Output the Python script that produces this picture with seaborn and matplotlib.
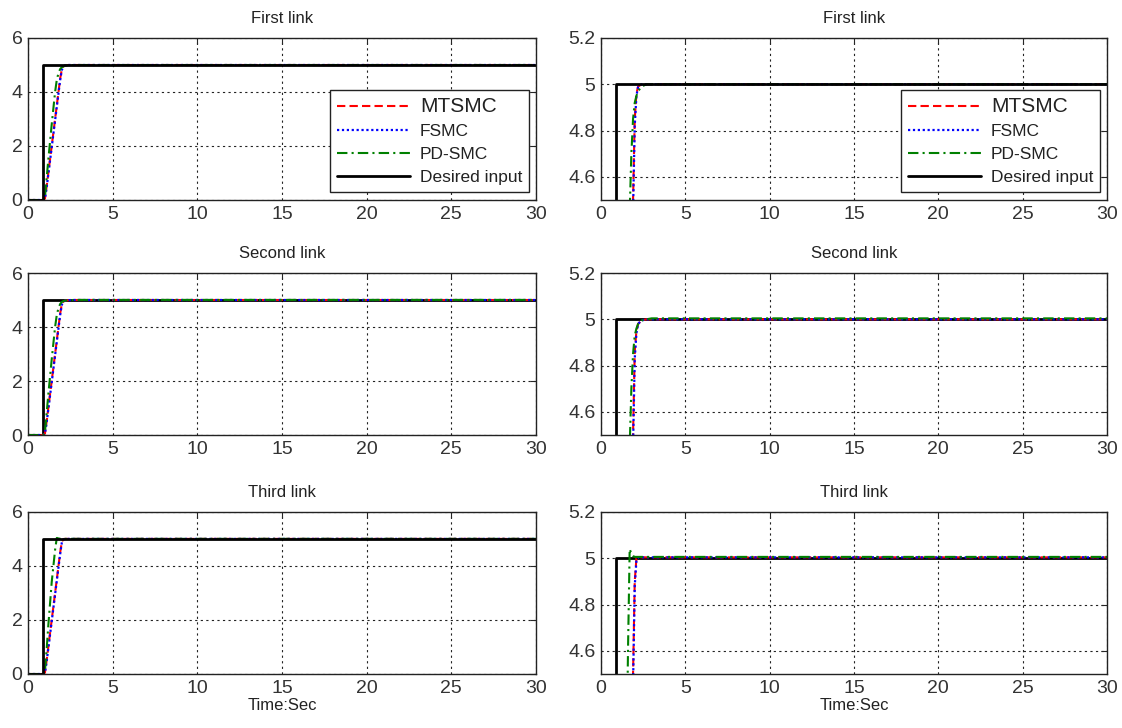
"""Step response of the three links: MTSMC vs FSMC vs PD-SMC."""

import numpy as np
import pandas as pd
import matplotlib
matplotlib.use("Agg")
import matplotlib.pyplot as plt
import seaborn as sns

# time grid shared by the controller responses (s)
t = [0, 0.9, 1.0, 1.1, 1.2, 1.4, 1.6, 1.7, 1.8, 1.9, 2.0, 2.1, 2.2, 2.4, 2.7, 3.0, 30]

# desired step input
t_desired = [0, 0.9, 0.9, 30]
y_desired = [0, 0, 5, 5]

link_titles = ["First link", "Second link", "Third link"]

mtsmc = [
    [0, 0, 0.05, 0.5, 1.0, 2.0, 3.0, 3.5, 4.0, 4.5, 4.85, 4.96, 4.99, 5.0, 5.0, 5.0, 5.0],
    [0, 0, 0.05, 0.5, 1.0, 2.0, 3.0, 3.5, 4.0, 4.5, 4.86, 4.95, 4.98, 4.995, 5.0, 5.0, 5.0],
    [0, 0, 0.05, 0.5, 1.0, 2.0, 3.0, 3.5, 4.0, 4.5, 4.9, 5.0, 5.004, 5.004, 5.004, 5.004, 5.004],
]
fsmc = [
    [0, 0, 0.04, 0.45, 0.95, 1.95, 2.95, 3.45, 3.95, 4.45, 4.82, 4.95, 4.99, 5.0, 5.0, 5.0, 5.0],
    [0, 0, 0.04, 0.45, 0.95, 1.95, 2.95, 3.45, 3.95, 4.45, 4.83, 4.94, 4.98, 4.995, 5.0, 5.0, 5.0],
    [0, 0, 0.04, 0.45, 0.95, 1.95, 2.95, 3.45, 3.95, 4.45, 4.88, 4.99, 5.004, 5.004, 5.004, 5.004, 5.004],
]
pdsmc = [
    [0, 0, 0.1, 0.8, 1.5, 2.8, 4.0, 4.45, 4.7, 4.85, 4.92, 4.95, 4.97, 4.99, 5.0, 5.0, 5.0],
    [0, 0, 0.1, 0.8, 1.5, 2.8, 4.0, 4.45, 4.7, 4.85, 4.93, 4.96, 4.98, 4.995, 5.0, 5.004, 5.004],
    [0, 0, 0.1, 0.9, 1.8, 3.4, 4.6, 5.04, 5.02, 5.01, 5.006, 5.006, 5.006, 5.006, 5.006, 5.006, 5.006],
]

# left column: full range, right column: zoom on the settling
ylims = [(0, 6), (4.5, 5.2)]
yticks = [[0, 2, 4, 6], [4.6, 4.8, 5.0, 5.2]]
yticklabels = [["0", "2", "4", "6"], ["4.6", "4.8", "5", "5.2"]]
xticks = [0, 5, 10, 15, 20, 25, 30]

# which panels have the desired input under the controller curves
desired_below = [[False, False], [True, True], [False, True]]

sns.set_style("white")
plt.rcParams["font.family"] = ["Liberation Sans", "DejaVu Sans"]

fig = plt.figure(figsize=(11.22, 7.28), dpi=100)

col_x = [28 / 1122, 601 / 1122]
col_w = [508 / 1122, 506 / 1122]
row_top = [38, 273, 512]
row_h = 162

styles = {
    "MTSMC": dict(color="#ff0000", linestyle=(0, (4, 2)), linewidth=1.5),
    "FSMC": dict(color="#0000ff", linestyle=(0, (1, 1.2)), linewidth=1.6),
    "PD-SMC": dict(color="#008000", linestyle=(0, (5, 2, 1, 2)), linewidth=1.5),
}


def draw_desired(ax):
    sns.lineplot(x=t_desired, y=y_desired, ax=ax, color="black",
                 linewidth=2, estimator=None, sort=False,
                 label="Desired input")


for r in range(3):
    for c in range(2):
        ax = fig.add_axes([col_x[c], 1 - (row_top[r] + row_h) / 728,
                           col_w[c], row_h / 728])
        df = pd.DataFrame({"t": t, "MTSMC": mtsmc[r], "FSMC": fsmc[r],
                           "PD-SMC": pdsmc[r]})
        if desired_below[r][c]:
            draw_desired(ax)
        for name in ["MTSMC", "FSMC", "PD-SMC"]:
            sns.lineplot(data=df, x="t", y=name, ax=ax, estimator=None,
                         sort=False, label=name, **styles[name])
        if not desired_below[r][c]:
            draw_desired(ax)

        ax.set_xlim(0, 30)
        ax.set_ylim(*ylims[c])
        ax.set_xticks(xticks)
        ax.set_yticks(yticks[c])
        ax.set_yticklabels(yticklabels[c])
        ax.tick_params(direction="in", labelsize=14, labelcolor="#333333",
                       length=4, width=0.8, top=True, right=True, pad=4)
        ax.grid(True, color="#222222", linestyle=(0, (2, 3)), linewidth=0.8)
        for sp in ax.spines.values():
            sp.set_color("#222222")
            sp.set_linewidth(1.0)
        ax.set_title(link_titles[r], fontsize=12, color="#222222", pad=11)
        ax.set_ylabel("")
        ax.set_xlabel("Time:Sec" if r == 2 else "", fontsize=12,
                      color="#222222", labelpad=1)

        if r == 0:
            handles, labels = ax.get_legend_handles_labels()
            order = [labels.index(n) for n in
                     ["MTSMC", "FSMC", "PD-SMC", "Desired input"]]
            leg = ax.legend([handles[i] for i in order],
                            [labels[i] for i in order],
                            loc="lower right", bbox_to_anchor=(1.004, -0.005),
                            fontsize=12.5, handlelength=4.2, handletextpad=0.6,
                            borderpad=0.4, labelspacing=0.45,
                            fancybox=False, framealpha=1,
                            edgecolor="#222222")
            leg.get_frame().set_linewidth(1.0)
            leg.get_texts()[0].set_fontsize(15)
            for txt in leg.get_texts():
                txt.set_color("#222222")
        else:
            ax.get_legend().remove()

fig.savefig("out.png", dpi=100)
plt.close(fig)
